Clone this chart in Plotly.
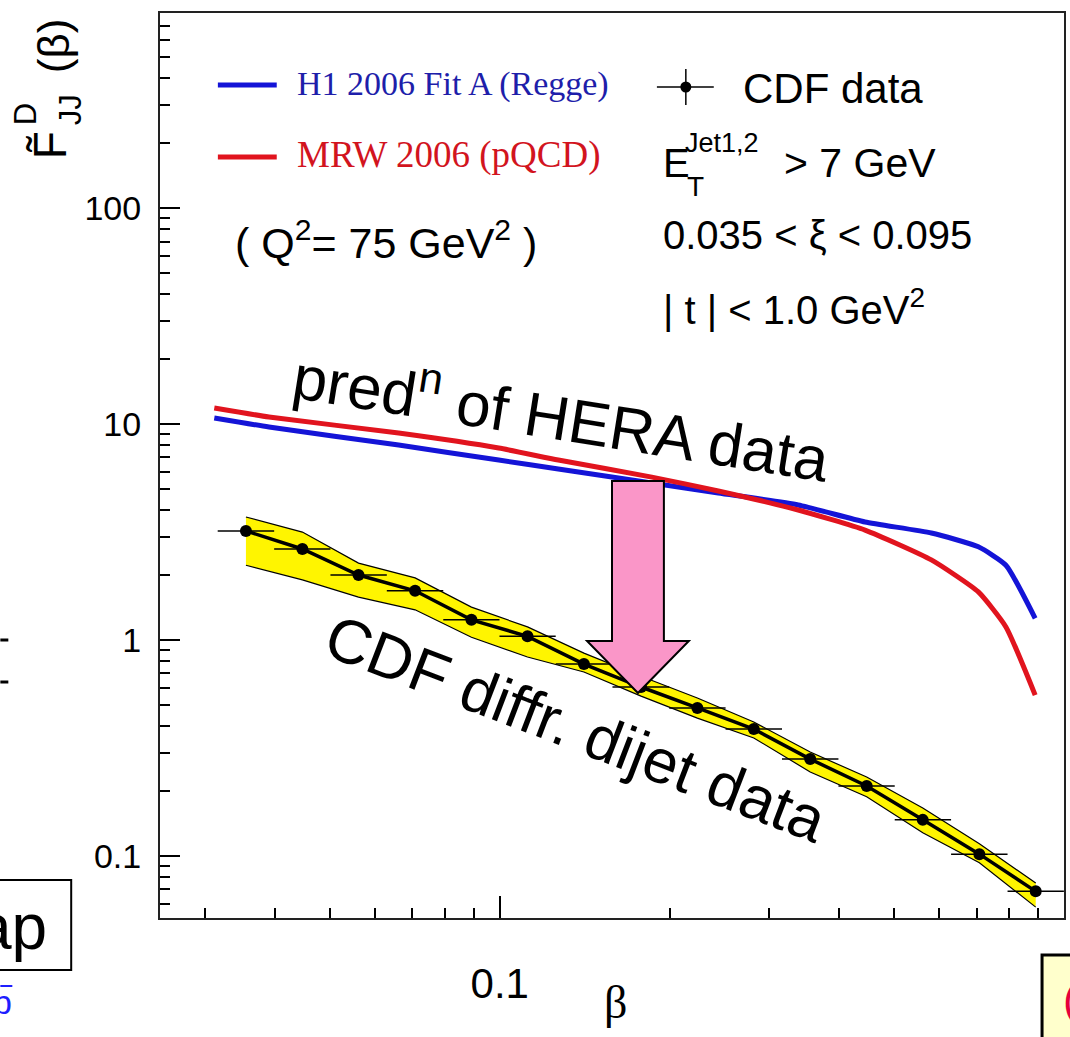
import numpy as np
import plotly.graph_objects as go

# ---- CDF diffractive dijet data (bin centres in beta) ----
beta = [0.0355, 0.0447, 0.0562, 0.0708, 0.0891, 0.112, 0.141, 0.178,
        0.224, 0.282, 0.355, 0.447, 0.562, 0.708, 0.891]
f_cdf = [3.20, 2.64, 2.00, 1.69, 1.24, 1.04, 0.774, 0.606,
         0.485, 0.387, 0.281, 0.211, 0.147, 0.102, 0.0686]
# systematic band
band_hi = [3.71, 3.16, 2.27, 1.94, 1.42, 1.15, 0.87, 0.68,
           0.539, 0.417, 0.303, 0.232, 0.167, 0.114, 0.075]
band_lo = [2.22, 1.90, 1.58, 1.38, 1.03, 0.834, 0.711, 0.55,
           0.435, 0.352, 0.245, 0.188, 0.128, 0.093, 0.058]

# ---- predictions from HERA diffractive PDFs ----
beta_fit = [0.0312, 0.039, 0.0662, 0.0996, 0.127, 0.186, 0.244,
            0.338, 0.444, 0.582, 0.705, 0.789, 0.889]
f_h1 = [10.66, 9.69, 7.99, 6.81, 6.19, 5.33, 4.79,
        4.22, 3.52, 3.13, 2.70, 2.22, 1.26]
f_mrw = [11.86, 10.78, 9.08, 7.74, 6.81, 5.68, 4.90,
         4.00, 3.23, 2.35, 1.67, 1.15, 0.556]

# ---- axis ticks ----
x_tick_vals = [0.1]
x_tick_text = ["0.1"]
x_minor_vals = [0.03, 0.04, 0.05, 0.06, 0.07, 0.08, 0.09,
                0.2, 0.3, 0.4, 0.5, 0.6, 0.7, 0.8, 0.9]
y_tick_vals = [0.1, 1, 10, 100]
y_tick_text = ["0.1", "1", "10", "100"]
y_minor_vals = [0.06, 0.07, 0.08, 0.09,
                0.2, 0.3, 0.4, 0.5, 0.6, 0.7, 0.8, 0.9,
                2, 3, 4, 5, 6, 7, 8, 9,
                20, 30, 40, 50, 60, 70, 80, 90,
                200, 300, 400, 500, 600, 700]

# horizontal error bars span each log-spaced bin
lb = np.log10(beta)
mid = (lb[1:] + lb[:-1]) / 2
edges = np.concatenate([[2 * lb[0] - mid[0]], mid, [2 * lb[-1] - mid[-1]]])
err_plus = 10 ** edges[1:] - np.array(beta)
err_minus = np.array(beta) - 10 ** edges[:-1]

SANS = "Liberation Sans, Arial, sans-serif"
SERIF = "Liberation Serif, Times New Roman, serif"

W, H = 1070, 1037
L, R, T, B = 160, 1066, 13, 918


def px(x):
    return (x - L) / (R - L)


def py(y):
    return (B - y) / (B - T)


fig = go.Figure()

# yellow band with thin outline
fig.add_trace(go.Scatter(x=beta, y=band_lo, mode="lines",
                         line=dict(color="black", width=1.2),
                         hoverinfo="skip", showlegend=False))
fig.add_trace(go.Scatter(x=beta, y=band_hi, mode="lines", fill="tonexty",
                         fillcolor="rgb(255,245,0)",
                         line=dict(color="black", width=1.2),
                         hoverinfo="skip", showlegend=False))

# HERA predictions
fig.add_trace(go.Scatter(x=beta_fit, y=f_h1, mode="lines",
                         line=dict(color="rgb(20,20,215)", width=5,
                                   shape="spline", smoothing=0.5),
                         showlegend=False))
fig.add_trace(go.Scatter(x=beta_fit, y=f_mrw, mode="lines",
                         line=dict(color="rgb(225,20,30)", width=5,
                                   shape="spline", smoothing=0.5),
                         showlegend=False))

# CDF data points
fig.add_trace(go.Scatter(
    x=beta, y=f_cdf, mode="lines+markers",
    line=dict(color="black", width=3.5),
    marker=dict(color="black", size=12),
    error_x=dict(type="data", symmetric=False, array=err_plus,
                 arrayminus=err_minus, color="black", thickness=1.5, width=0),
    showlegend=False))

shapes = []
annotations = []


def text(s, x, y, size, color="black", family=SANS, xanchor="left",
         yanchor="middle", angle=0):
    annotations.append(dict(
        text=s, x=px(x), y=py(y), xref="paper", yref="paper",
        xanchor=xanchor, yanchor=yanchor, showarrow=False, textangle=angle,
        font=dict(size=size, color=color, family=family)))


# legend-like key
shapes.append(dict(type="line", xref="paper", yref="paper",
                   x0=px(218), x1=px(277), y0=py(85), y1=py(85),
                   line=dict(color="rgb(20,20,215)", width=5)))
text("H1 2006 Fit A (Regge)", 295, 84, 34, color="rgb(30,30,170)", family=SERIF)
shapes.append(dict(type="line", xref="paper", yref="paper",
                   x0=px(218), x1=px(277), y0=py(157), y1=py(157),
                   line=dict(color="rgb(225,20,30)", width=5)))
text("MRW 2006 (pQCD)", 295, 155, 37, color="rgb(210,20,30)", family=SERIF)
text("( Q<sup>2</sup>= 75 GeV<sup>2</sup> )", 233, 240, 43)

# CDF data key marker
shapes.append(dict(type="line", xref="paper", yref="paper",
                   x0=px(658), x1=px(715), y0=py(87), y1=py(87),
                   line=dict(color="black", width=1.5)))
shapes.append(dict(type="line", xref="paper", yref="paper",
                   x0=px(687), x1=px(687), y0=py(69), y1=py(105),
                   line=dict(color="black", width=1.5)))
shapes.append(dict(type="circle", xref="paper", yref="paper",
                   x0=px(681.5), x1=px(692.5), y0=py(81.5), y1=py(92.5),
                   fillcolor="black", line=dict(color="black", width=0)))
text("CDF data", 742, 88, 42)
text("E", 662, 163, 40)
text("T", 686, 186, 28)
text("Jet1,2", 684, 143, 27)
text("&gt; 7 GeV", 783, 163, 41)
text("0.035 &lt; ξ &lt; 0.095", 662, 235, 40)
text("| t | &lt; 1.0 GeV<sup>2</sup>", 662, 307, 40)

# slanted captions
text("pred<sup>n</sup> of HERA data", 563, 414, 62, xanchor="center", angle=9)
text("CDF diffr. dijet data", 577, 728, 62, xanchor="center", angle=21)

# pink arrow from the prediction down to the data
arrow = [(613, 481), (665, 481), (665, 641), (690, 641), (639, 693),
         (588, 641), (613, 641)]
path = "M " + " L ".join(f"{px(a):.5f},{py(b):.5f}" for a, b in arrow) + " Z"
shapes.append(dict(type="path", xref="paper", yref="paper", path=path,
                   fillcolor="rgb(250,150,200)",
                   line=dict(color="black", width=2), layer="above"))

# y-axis title  F~^D_JJ (beta)
text("F̃", 50, 145, 46, xanchor="center", angle=-90)
text("D", 26, 114, 31, xanchor="center", angle=-90)
text("JJ", 70, 110, 31, xanchor="center", angle=-90)
text("(β)", 54, 46, 44, xanchor="center", angle=-90)

# x-axis title
text("β", 617, 1002, 46, family=SERIF, xanchor="center")

# neighbouring slide elements at the edges
shapes.append(dict(type="line", xref="paper", yref="paper",
                   x0=px(0), x1=px(8), y0=py(640), y1=py(640),
                   line=dict(color="black", width=3)))
shapes.append(dict(type="line", xref="paper", yref="paper",
                   x0=px(0), x1=px(8), y0=py(682), y1=py(682),
                   line=dict(color="black", width=3)))
shapes.append(dict(type="rect", xref="paper", yref="paper",
                   x0=px(-20), x1=px(71), y0=py(880), y1=py(970),
                   fillcolor="white", line=dict(color="black", width=2)))
text("ap", 49, 927, 64, xanchor="right")
shapes.append(dict(type="line", xref="paper", yref="paper",
                   x0=px(0), x1=px(12), y0=py(986), y1=py(986),
                   line=dict(color="rgb(30,30,255)", width=2)))
text("p", 14, 1002, 34, color="rgb(30,30,255)", xanchor="right")
shapes.append(dict(type="rect", xref="paper", yref="paper",
                   x0=px(1044), x1=px(1100), y0=py(955), y1=py(1060),
                   fillcolor="rgb(255,255,204)", line=dict(color="black", width=3)))
text("(", 1063, 999, 44, color="rgb(230,0,60)")

fig.update_layout(
    width=W, height=H,
    margin=dict(l=L, r=W - R, t=T, b=H - B),
    paper_bgcolor="white", plot_bgcolor="white",
    shapes=shapes, annotations=annotations,
    showlegend=False,
    xaxis=dict(type="log", range=[np.log10(0.025), 0.0],
               showline=True, linecolor="#222", linewidth=2, mirror=True,
               ticks="inside", ticklen=22, tickwidth=1.5, tickcolor="black",
               tickmode="array", tickvals=x_tick_vals, ticktext=x_tick_text,
               tickfont=dict(size=42, family=SANS, color="black"),
               ticklabelstandoff=28,
               minor=dict(tickmode="array", tickvals=x_minor_vals,
                          ticks="inside", ticklen=10, tickwidth=1.5,
                          tickcolor="black", showgrid=False),
               showgrid=False, zeroline=False),
    yaxis=dict(type="log", range=[-1.287, 2.903],
               showline=True, linecolor="#222", linewidth=2, mirror=True,
               ticks="inside", ticklen=20, tickwidth=1.5, tickcolor="black",
               tickmode="array", tickvals=y_tick_vals, ticktext=y_tick_text,
               tickfont=dict(size=34, family=SANS, color="black"),
               ticklabelstandoff=10,
               minor=dict(tickmode="array", tickvals=y_minor_vals,
                          ticks="inside", ticklen=10, tickwidth=1.5,
                          tickcolor="black", showgrid=False),
               showgrid=False, zeroline=False),
)

fig.write_html("out.html")
